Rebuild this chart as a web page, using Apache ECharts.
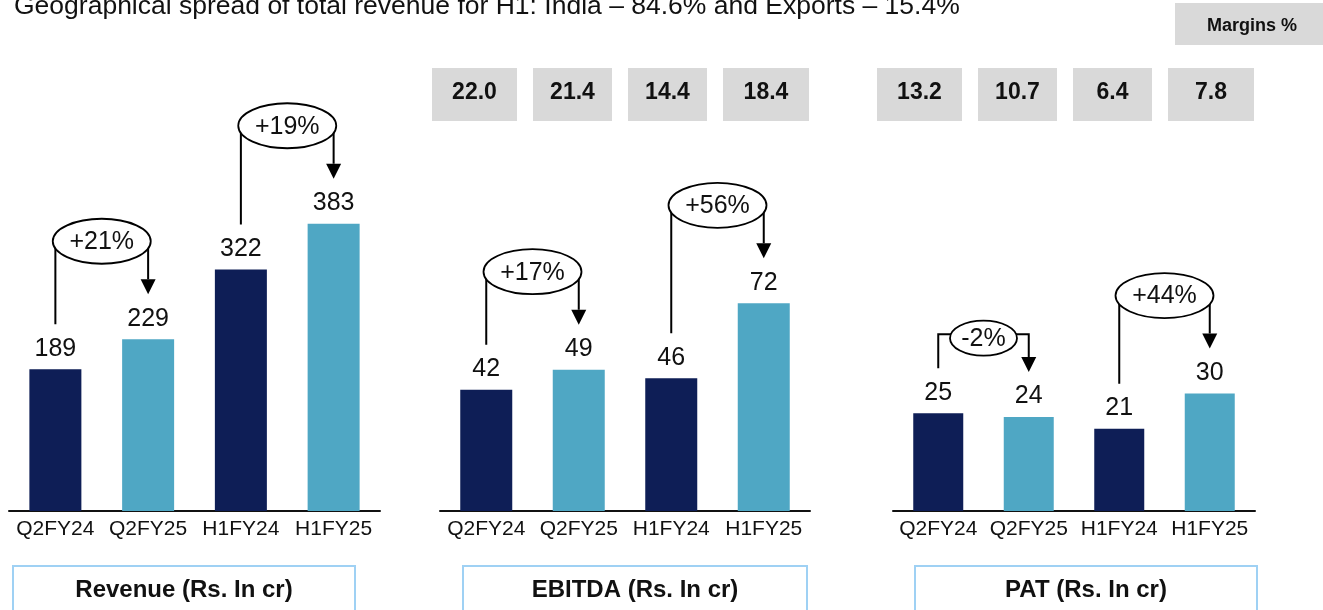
<!DOCTYPE html>
<html>
<head>
<meta charset="utf-8">
<script src="https://cdn.jsdelivr.net/npm/echarts@6/dist/echarts.min.js"></script>
<style>
html, body { margin: 0; padding: 0; background: #fff; }
#main { width: 1323px; height: 610px; }
</style>
</head>
<body>
<div id="main"></div>
<script>
var categories = ['Q2FY24', 'Q2FY25', 'H1FY24', 'H1FY25'];
var revenue = [189, 229, 322, 383];
var ebitda = [42, 49, 46, 72];
var pat = [25, 24, 21, 30];
var ebitdaMargin = ['22.0', '21.4', '14.4', '18.4'];
var patMargin = ['13.2', '10.7', '6.4', '7.8'];
var revenueGrowth = ['+21%', '+19%'];
var ebitdaGrowth = ['+17%', '+56%'];
var patGrowth = ['-2%', '+44%'];
var panelTitles = ['Revenue (Rs. In cr)', 'EBITDA (Rs. In cr)', 'PAT (Rs. In cr)'];
var headline = 'Geographical spread of total revenue for H1: India \u2013 84.6% and Exports \u2013 15.4%';

var DARK = '#0e1e56';
var LIGHT = '#4fa7c4';
var FONT = '"Liberation Sans", Arial, sans-serif';

var chart = echarts.init(document.getElementById('main'));

var grids = [
    {left: 9, width: 371, top: 61, bottom: 99},
    {left: 440, width: 370, top: 61, bottom: 99},
    {left: 893, width: 362, top: 61, bottom: 99}
];
var axisMax = [600, 156, 115];
var barWidths = [52, 52, 50];
var panels = [revenue, ebitda, pat];

function barSeries(i) {
    return {
        type: 'bar',
        xAxisIndex: i,
        yAxisIndex: i,
        data: panels[i],
        barWidth: barWidths[i],
        itemStyle: {
            color: function (p) { return p.dataIndex % 2 ? LIGHT : DARK; }
        },
        label: {
            show: true,
            position: 'top',
            distance: 8,
            fontSize: 25,
            fontFamily: FONT,
            color: '#111'
        },
        silent: true
    };
}

var option = {
    animation: false,
    grid: grids,
    xAxis: grids.map(function (g, i) {
        return {
            type: 'category',
            gridIndex: i,
            data: categories,
            axisLine: {lineStyle: {color: '#111', width: 2}},
            axisTick: {show: false},
            axisLabel: {interval: 0, fontSize: 21, fontFamily: FONT, color: '#111', margin: 8}
        };
    }),
    yAxis: grids.map(function (g, i) {
        return {type: 'value', gridIndex: i, min: 0, max: axisMax[i], show: false};
    }),
    series: [barSeries(0), barSeries(1), barSeries(2)]
};

chart.setOption(option);

var graphics = [];

// headline, cut at the top edge
graphics.push({
    type: 'text', x: 14, y: 7, z: 20,
    style: {text: headline, font: '26.5px ' + FONT, fill: '#111', verticalAlign: 'middle'}
});

// margins header
graphics.push({
    type: 'rect', shape: {x: 1175, y: 3, width: 148, height: 42}, z: 20,
    style: {fill: '#d9d9d9'}
});
graphics.push({
    type: 'text', x: 1252, y: 26, z: 21,
    style: {text: 'Margins %', font: 'bold 18px ' + FONT, fill: '#111', align: 'center', verticalAlign: 'middle'}
});

// margin boxes
var boxOffsets = [0, 101, 196, 291];
var boxWidths = [85, 79, 79, 86];
function marginRow(left, values) {
    values.forEach(function (v, i) {
        var x = left + boxOffsets[i];
        graphics.push({
            type: 'rect', shape: {x: x, y: 68, width: boxWidths[i], height: 53}, z: 20,
            style: {fill: '#d9d9d9'}
        });
        graphics.push({
            type: 'text', x: x + boxWidths[i] / 2, y: 93, z: 21,
            style: {text: v, font: 'bold 23px ' + FONT, fill: '#111', align: 'center', verticalAlign: 'middle'}
        });
    });
}
marginRow(432, ebitdaMargin);
marginRow(877, patMargin);

// panel title boxes
var titleBoxes = [[13, 342], [463, 344], [915, 342]];
titleBoxes.forEach(function (b, i) {
    graphics.push({
        type: 'rect', shape: {x: b[0], y: 566, width: b[1], height: 60}, z: 20,
        style: {fill: '#fff', stroke: '#9fd1f4', lineWidth: 2}
    });
    graphics.push({
        type: 'text', x: b[0] + b[1] / 2, y: 590, z: 21,
        style: {text: panelTitles[i], font: 'bold 24px ' + FONT, fill: '#111', align: 'center', verticalAlign: 'middle'}
    });
});

// growth callouts between a pair of bars
function growthArrow(gi, values, from, to, text) {
    var a = chart.convertToPixel({gridIndex: gi}, [from, values[from]]);
    var b = chart.convertToPixel({gridIndex: gi}, [to, values[to]]);
    var y1 = a[1] - 45, y2 = b[1] - 45;
    var compact = Math.abs(a[1] - b[1]) < 10;
    var cy = Math.min(y1, y2) - (compact ? 34 : 53);
    var cx = (a[0] + b[0]) / 2;
    var ecy = compact ? cy + 4 : cy;
    var rx = compact ? 33.5 : 49, ry = compact ? 17.5 : 22.5;
    var line = {stroke: '#000', lineWidth: 2, fill: null};
    graphics.push({
        type: 'polyline', z: 30,
        shape: {points: [[a[0], y1], [a[0], cy], [cx, cy]]},
        style: line
    });
    graphics.push({
        type: 'polyline', z: 30,
        shape: {points: [[cx, cy], [b[0], cy], [b[0], y2 - 15]]},
        style: line
    });
    graphics.push({
        type: 'polygon', z: 30,
        shape: {points: [[b[0] - 7.5, y2 - 15], [b[0] + 7.5, y2 - 15], [b[0], y2]]},
        style: {fill: '#000'}
    });
    graphics.push({
        type: 'ellipse', z: 31,
        shape: {cx: cx, cy: ecy, rx: rx, ry: ry},
        style: {fill: '#fff', stroke: '#000', lineWidth: 1.8}
    });
    graphics.push({
        type: 'text', x: cx, y: ecy + 1, z: 32,
        style: {text: text, font: '25px ' + FONT, fill: '#111', align: 'center', verticalAlign: 'middle'}
    });
}

[revenueGrowth, ebitdaGrowth, patGrowth].forEach(function (g, gi) {
    growthArrow(gi, panels[gi], 0, 1, g[0]);
    growthArrow(gi, panels[gi], 2, 3, g[1]);
});

chart.setOption({graphic: graphics});

window.addEventListener('resize', function () {
    chart.resize();
});
</script>
</body>
</html>
